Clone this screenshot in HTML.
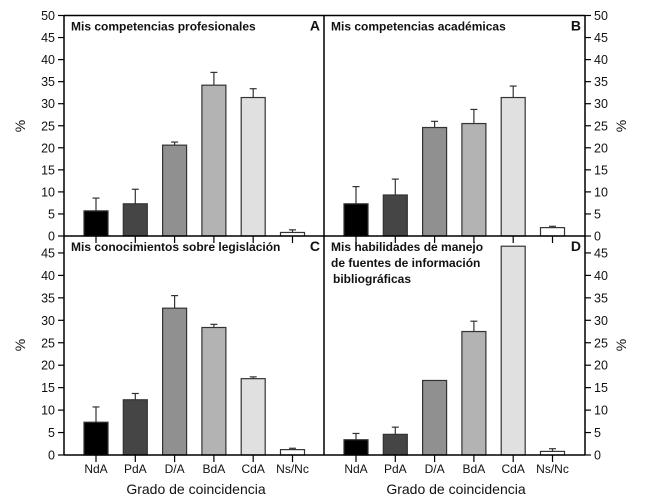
<!DOCTYPE html>
<html><head><meta charset="utf-8"><style>
html,body{margin:0;padding:0;background:#fff}
svg{display:block;font-family:"Liberation Sans",Arial,sans-serif}
</style></head><body>
<svg id="chart" width="667" height="502" viewBox="0 0 667 502" xmlns="http://www.w3.org/2000/svg"></svg>
<script>
const categories = ["NdA","PdA","D/A","BdA","CdA","Ns/Nc"];
const valuesA = [5.7,7.3,20.6,34.2,31.4,0.8];
const errorsA = [8.6,10.6,21.3,37.1,33.4,1.4];
const valuesB = [7.3,9.3,24.6,25.5,31.4,1.9];
const errorsB = [11.2,12.9,26.0,28.7,34.0,2.2];
const valuesC = [7.3,12.3,32.7,28.4,17.0,1.2];
const errorsC = [10.7,13.7,35.5,29.1,17.4,1.5];
const valuesD = [3.4,4.6,16.6,27.5,46.5,0.8];
const errorsD = [4.8,6.2,16.6,29.8,46.5,1.4];
const ticksTop = [0,5,10,15,20,25,30,35,40,45,50];
const ticksBottom = [0,5,10,15,20,25,30,35,40,45];
const fills = ["#000000","#454545","#909090","#b3b3b3","#e0e0e0","#ffffff"];

const svg = document.getElementById('chart');
const NS = "http://www.w3.org/2000/svg";
function mk(tag, attrs, parent){
  const e = document.createElementNS(NS, tag);
  for (const k in attrs) e.setAttribute(k, attrs[k]);
  (parent||svg).appendChild(e);
  return e;
}
const X0L = 64, X1L = 324, X1R = 585;
function xScale(panelLeft, i){ return panelLeft + 32 + i*39.3; }
const topScale = v => 236 - v*4.41;
const botScale = v => 455 - v*4.49;

function panel(name, left, right, yS, vals, errs, title, letter, yBase, yTop){
  const g = mk('g', {});
  
  
  vals.forEach((v,i)=>{
    const cx = xScale(left, i);
    const yv = Math.max(yS(v), yTop);
    const ye = yS(errs[i]);
    if (errs[i] > v) {
      const el = mk('line',{x1:cx,x2:cx,y1:ye,y2:yv,stroke:'#333','stroke-width':1.2},g);
      
      
      const cap = mk('line',{x1:cx-3.5,x2:cx+3.5,y1:ye,y2:ye,stroke:'#333','stroke-width':1.2},g);
      
      
    }
    const r = mk('rect',{x:cx-12,y:yv,width:24,height:yBase-yv,fill:fills[i],stroke:'#333','stroke-width':1.2},g);
    
    
    const t = mk('line',{x1:cx,x2:cx,y1:yBase,y2:yBase+7,stroke:'#000','stroke-width':1.2},g);
    
    
  });
  const lines = title.split('|');
  lines.forEach((ln,k)=>{
    const tt = mk('text',{x:left+7+(k==2?2:0),y:yTop+15+k*16,'font-size':12,'font-weight':'bold',fill:'#111'},g);
    tt.textContent = ln;
    
    
  });
  const lt = mk('text',{x:right-4,y:yTop+15,'font-size':14,'font-weight':'bold','text-anchor':'end',fill:'#111'},g);
  lt.textContent = letter;
  
  
}

panel('panel-a', X0L, X1L, topScale, valuesA, errorsA, 'Mis competencias profesionales','A',236,15.5);
panel('panel-b', X1L, X1R, topScale, valuesB, errorsB, 'Mis competencias académicas','B',236,15.5);
panel('panel-c', X0L, X1L, botScale, valuesC, errorsC, 'Mis conocimientos sobre legislación','C',455,236);
panel('panel-d', X1L, X1R, botScale, valuesD, errorsD, 'Mis habilidades de manejo|de fuentes de información|bibliográficas','D',455,236);

[[X0L,15.5,X1R,15.5],[X0L,236,X1R,236],[X0L,455,X1R,455],[X0L,15.5,X0L,455],[X1L,15.5,X1L,455],[X1R,15.5,X1R,455]].forEach(l=>{
  const e = mk('line',{x1:l[0],y1:l[1],x2:l[2],y2:l[3],stroke:'#000','stroke-width':1.5});
  
  
});
function yTicks(ticks, scale, side){
  ticks.forEach(v=>{
    const y = scale(v);
    const x = side==='left'?X0L:X1R;
    const d = side==='left'?-6:6;
    const t = mk('line',{x1:x,x2:x+d,y1:y,y2:y,stroke:'#000','stroke-width':1.2});
    
    
    const tx = mk('text',{x:side==='left'?x-9:x+9,y:y+4.5,'font-size':12.5,'text-anchor':side==='left'?'end':'start',fill:'#111'});
    tx.textContent = v;
    
    
  });
}
yTicks(ticksTop, topScale, 'left');
yTicks(ticksTop, topScale, 'right');
yTicks(ticksBottom, botScale, 'left');
yTicks(ticksBottom, botScale, 'right');

[[25,126],[25,345],[626,126],[626,345]].forEach(p=>{
  const t = mk('text',{x:p[0],y:p[1],'font-size':14,'text-anchor':'middle',fill:'#111',transform:`rotate(-90 ${p[0]} ${p[1]})`});
  t.textContent = '%';
  
  
});
[X0L, X1L].forEach(left=>{
  categories.forEach((c,i)=>{
    const t = mk('text',{x:xScale(left,i),y:473,'font-size':12,'text-anchor':'middle',fill:'#111'});
    t.textContent = c;
    
    
  });
  const tt = mk('text',{x:left+132,y:494,'font-size':14,'text-anchor':'middle',fill:'#111'});
  tt.textContent = 'Grado de coincidencia';
  
  
});
</script>
</body></html>
